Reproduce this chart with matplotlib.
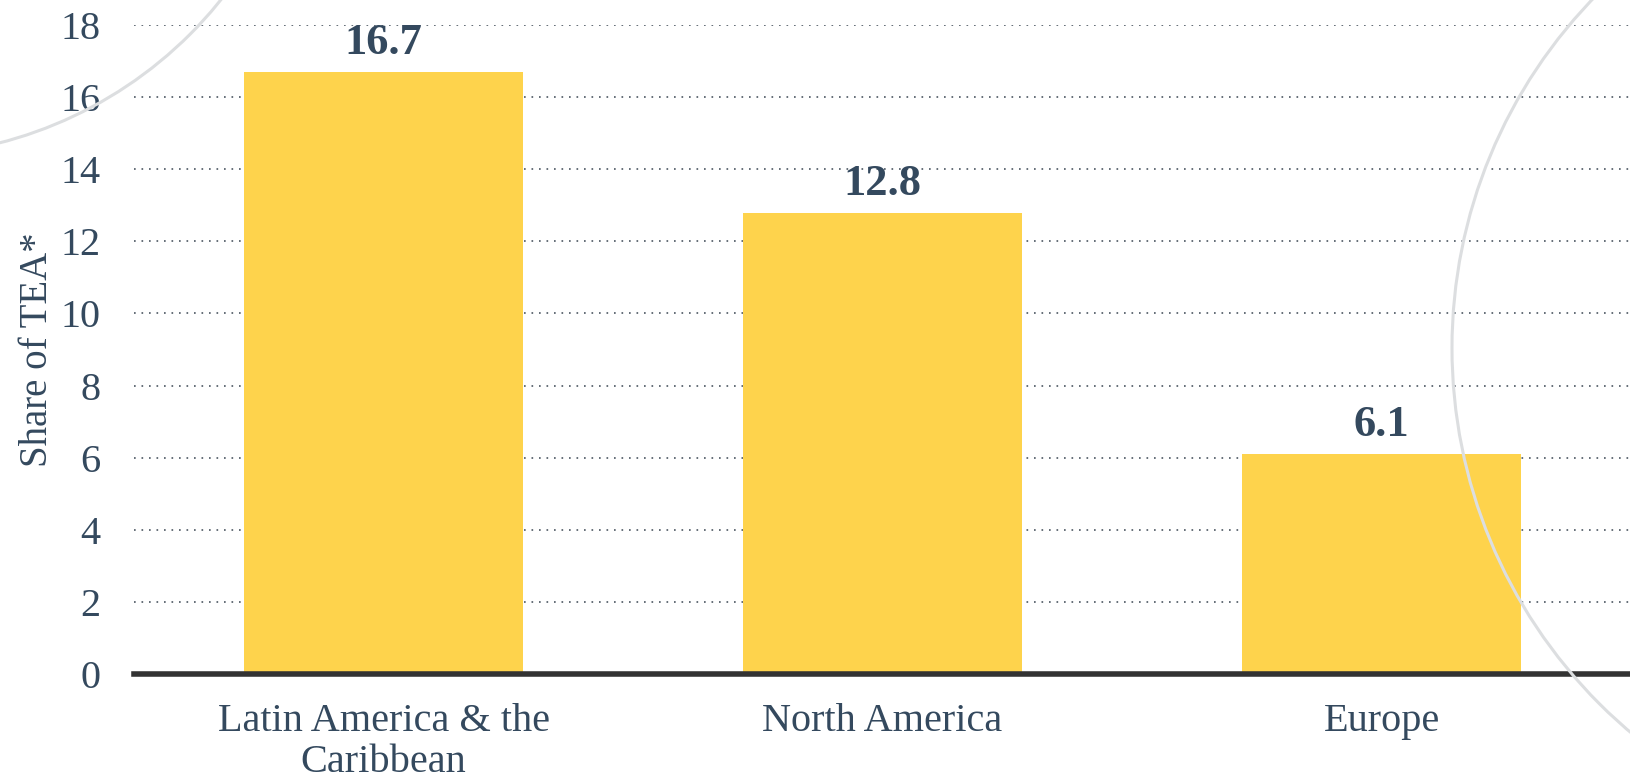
import matplotlib.pyplot as plt
from matplotlib.patches import Circle

regions = ["Latin America & the\nCaribbean", "North America", "Europe"]
share_tea = [16.7, 12.8, 6.1]
y_ticks = [0, 2, 4, 6, 8, 10, 12, 14, 16, 18]

textColor = "#34495e"
barColor = "#fed34c"

plt.rcParams["font.family"] = ["Liberation Serif", "DejaVu Serif"]

fig = plt.figure(figsize=(16.31, 7.8), dpi=100)
fig.patch.set_facecolor("white")

# faint decorative arcs behind the plot (inches)
for cx, cy, r in [(-1.04, 10.4, 4.16), (19.55, 4.32, 5.03)]:
    fig.patches.append(Circle((cx, cy), r, transform=fig.dpi_scale_trans,
                              fill=False, edgecolor="#dcdee0", linewidth=2.2, zorder=0))

ax = fig.add_axes([0.0822, 0.1359, 0.9178, 0.832])
ax.set_facecolor("none")

x = list(range(len(regions)))
ax.bar(x, share_tea, width=0.56, color=barColor, zorder=3)
for xi, v in zip(x, share_tea):
    ax.text(xi, v + 0.25, f"{v}", ha="center", va="bottom", fontsize=32,
            fontweight="bold", color=textColor, zorder=4)

ax.set_xlim(-0.5, 2.5)
ax.set_ylim(0, 18)
ax.set_yticks(y_ticks)
ax.set_xticks(x)
ax.set_xticklabels(regions, linespacing=1.15)
ax.tick_params(axis="both", length=0, labelsize=29, labelcolor=textColor)
ax.tick_params(axis="y", pad=24)
ax.tick_params(axis="x", pad=21)
ax.set_ylabel("Share of TEA*", fontsize=28, color=textColor, labelpad=3)

ax.yaxis.grid(True, linestyle=(0, (1, 3.5)), color="#4a5560", linewidth=1.2)
ax.set_axisbelow(True)
for side in ["top", "right", "left"]:
    ax.spines[side].set_visible(False)
ax.spines["bottom"].set_color("#333333")
ax.spines["bottom"].set_linewidth(4)
ax.spines["bottom"].set_zorder(5)

fig.savefig("out.png", dpi=100)
